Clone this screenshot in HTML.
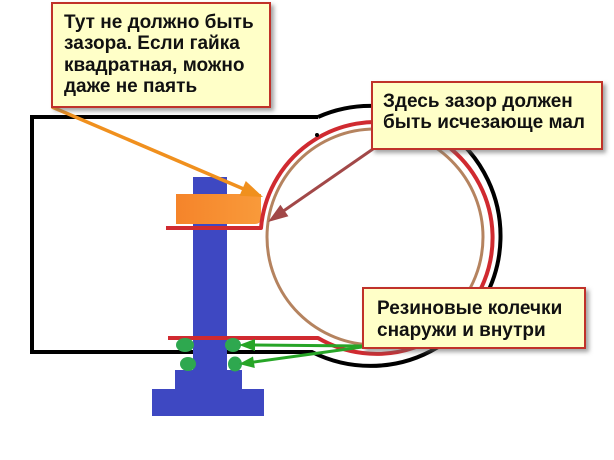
<!DOCTYPE html>
<html><head><meta charset="utf-8"><style>
html,body{margin:0;padding:0;background:#fff;}
svg{display:block;}
text{font-family:"Liberation Sans",Arial,sans-serif;font-weight:bold;font-size:19px;fill:#111;}
</style></head><body>
<svg width="614" height="460" viewBox="0 0 614 460" xmlns="http://www.w3.org/2000/svg">
<defs>
<filter id="sh" x="-10%" y="-10%" width="130%" height="140%">
<feDropShadow dx="3" dy="3" stdDeviation="2" flood-color="#666" flood-opacity="0.6"/>
</filter>
<linearGradient id="ng" x1="0" y1="0" x2="1" y2="0">
<stop offset="0" stop-color="#f5842a"/><stop offset="1" stop-color="#f99a3a"/>
</linearGradient>
</defs>
<rect width="614" height="460" fill="#fff"/>
<!-- black outline -->
<path d="M318,117 L32,117 L32,352 L312,352 A130,130 0 1 0 318,117" fill="none" stroke="#000" stroke-width="4"/>
<!-- brown circle -->
<circle cx="375" cy="237" r="108" fill="none" stroke="#b5835f" stroke-width="3"/>
<!-- blue bolt -->
<rect x="193" y="177" width="34" height="200" fill="#3e48c2"/>
<rect x="175" y="370" width="67" height="22" fill="#3e48c2"/>
<rect x="152" y="389" width="112" height="27" fill="#3e48c2"/>
<!-- nut -->
<path d="M176,194 L261,194 L261,218 Q261,224 255,224 L176,224 Z" fill="url(#ng)"/>
<!-- red path -->
<path d="M166,228 L261,228 A116,116 0 1 1 318,338 L168,338" fill="none" stroke="#d02a30" stroke-width="4" stroke-linejoin="round"/>
<circle cx="317" cy="135" r="2" fill="#000"/>
<!-- green rings -->
<ellipse cx="185" cy="345" rx="9" ry="7" fill="#2ea84f"/>
<ellipse cx="233" cy="345" rx="8" ry="7" fill="#2ea84f"/>
<ellipse cx="188" cy="364" rx="8" ry="7" fill="#2ea84f"/>
<ellipse cx="235" cy="364" rx="7" ry="7.5" fill="#2ea84f"/>
<!-- orange arrow -->
<line x1="52" y1="107" x2="246" y2="190" stroke="#f0901e" stroke-width="3.5"/>
<polygon points="263,197 239.5,195.8 245.8,181" fill="#f0901e"/>
<!-- maroon arrow -->
<line x1="373" y1="149" x2="282" y2="212" stroke="#a24848" stroke-width="3"/>
<polygon points="268,222 280.4,204.8 288.4,216.2" fill="#a24848"/>
<!-- green arrows -->
<line x1="362" y1="346" x2="252" y2="345" stroke="#27a527" stroke-width="3"/>
<polygon points="239,345 255,339 255,351" fill="#27a527"/>
<line x1="362" y1="347" x2="252" y2="362.3" stroke="#27a527" stroke-width="3"/>
<polygon points="239,364 253,356.5 254.8,368" fill="#27a527"/>
<!-- callouts -->
<g filter="url(#sh)">
<rect x="52" y="3" width="218" height="104" fill="#ffffc8" stroke="#c0332b" stroke-width="2"/>
<rect x="372" y="82" width="230" height="67" fill="#ffffc8" stroke="#c0332b" stroke-width="2"/>
<rect x="363" y="288" width="222" height="60" fill="#ffffc8" stroke="#c0332b" stroke-width="2"/>
</g>
<text x="64" y="28">Тут не должно быть</text>
<text x="64" y="49">зазора. Если гайка</text>
<text x="64" y="71">квадратная, можно</text>
<text x="64" y="92">даже не паять</text>
<text x="383" y="107">Здесь зазор должен</text>
<text x="383" y="128">быть исчезающе мал</text>
<text x="377" y="314">Резиновые колечки</text>
<text x="377" y="336">снаружи и внутри</text>
</svg>
</body></html>
